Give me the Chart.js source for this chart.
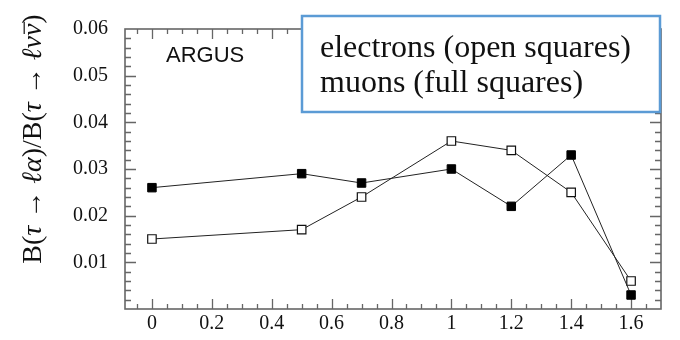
<!DOCTYPE html>
<html>
<head>
<meta charset="utf-8">
<title>ARGUS tau branching ratio</title>
<script src="https://cdn.jsdelivr.net/npm/chart.js@4.4.1/dist/chart.umd.min.js"></script>
<style>
  html, body { margin: 0; padding: 0; background: #fff; }
  #wrap { width: 680px; height: 340px; }
</style>
</head>
<body>
<div id="wrap"><canvas id="c" width="680" height="340"></canvas></div>
<script>
// Measured points (x position and branching ratio for each lepton type)
const xValues   = [0, 0.5, 0.7, 1.0, 1.2, 1.4, 1.6];
const electrons = [0.015, 0.017, 0.024, 0.036, 0.034, 0.025, 0.006];
const muons     = [0.026, 0.029, 0.027, 0.030, 0.022, 0.033, 0.003];

// Labelled axis ticks
const xTickValues = [0, 0.2, 0.4, 0.6, 0.8, 1, 1.2, 1.4, 1.6];
const yTickValues = [0.01, 0.02, 0.03, 0.04, 0.05, 0.06];

// Axis ranges
const xRange = [-0.09, 1.7];
const yRange = [0, 0.06];

const legendLines = ['electrons (open squares)', 'muons (full squares)'];
const experiment = 'ARGUS';

const SERIF = '"Liberation Serif", "DejaVu Serif", "Times New Roman", serif';
const SANS = '"Liberation Sans", Arial, Helvetica, sans-serif';
const FRAME = '#666';

// Frame with inward major/minor tick marks on all four sides
const framePlugin = {
  id: 'frame',
  beforeDatasetsDraw(chart) {
    const { ctx, chartArea: a, scales } = chart;
    const xs = scales.x, ys = scales.y;
    ctx.save();
    ctx.strokeStyle = FRAME;
    ctx.lineWidth = 1.6;
    ctx.strokeRect(a.left, a.top, a.right - a.left, a.bottom - a.top);
    ctx.lineWidth = 1.3;
    ctx.beginPath();
    // x ticks: minor every 0.05, major every 0.2
    for (let k = -1; k <= 33; k++) {
      const v = k * 0.05;
      if (v < xRange[0] || v > xRange[1]) continue;
      const major = k % 4 === 0;
      const len = major ? 10 : 5;
      const px = Math.round(xs.getPixelForValue(v)) + 0.5;
      ctx.moveTo(px, a.bottom); ctx.lineTo(px, a.bottom - len);
      ctx.moveTo(px, a.top); ctx.lineTo(px, a.top + len);
    }
    // y ticks: minor every 0.002, major every 0.01
    for (let k = 1; k < 30; k++) {
      const v = k * 0.002;
      const major = k % 5 === 0;
      const len = major ? 11 : 6;
      const py = Math.round(ys.getPixelForValue(v)) + 0.5;
      ctx.moveTo(a.left, py); ctx.lineTo(a.left + len, py);
      ctx.moveTo(a.right, py); ctx.lineTo(a.right - len, py);
    }
    ctx.stroke();
    ctx.restore();
  },
  afterDraw(chart) {
    const { ctx } = chart;
    ctx.save();

    // Experiment name
    ctx.fillStyle = '#111';
    ctx.font = '22px ' + SANS;
    ctx.textBaseline = 'alphabetic';
    ctx.textAlign = 'left';
    ctx.fillText(experiment, 166, 62);

    // Legend box
    ctx.fillStyle = '#fff';
    ctx.fillRect(302, 16, 358, 96);
    ctx.strokeStyle = '#5B9BD5';
    ctx.lineWidth = 2.5;
    ctx.strokeRect(302, 16, 358, 96);
    ctx.fillStyle = '#111';
    ctx.font = '32px ' + SERIF;
    ctx.fillText(legendLines[0], 320, 57);
    ctx.fillText(legendLines[1], 320, 92);

    // Rotated y-axis title: B(τ → ℓα)/B(τ → ℓνν̄)
    const size = 28;
    const up = size + 'px ' + SERIF;
    const it = 'italic ' + size + 'px ' + SERIF;
    const parts = [
      ['B(', up], ['τ', it], [' → ', up], ['ℓα', it], [')/B(', up],
      ['τ', it], [' → ', up], ['ℓν', it], ['ν', it, true], [')', up]
    ];
    let total = 0;
    for (const p of parts) { ctx.font = p[1]; total += ctx.measureText(p[0]).width; }
    ctx.translate(41, 139);
    ctx.rotate(-Math.PI / 2);
    let x = -total / 2;
    ctx.fillStyle = '#111';
    ctx.strokeStyle = '#111';
    for (const p of parts) {
      ctx.font = p[1];
      const w = ctx.measureText(p[0]).width;
      ctx.fillText(p[0], x, 0);
      if (p[2]) {
        ctx.lineWidth = 1.2;
        ctx.beginPath();
        ctx.moveTo(x + 2, -size * 0.6);
        ctx.lineTo(x + w + 2, -size * 0.6);
        ctx.stroke();
      }
      x += w;
    }
    ctx.restore();
  }
};

const toPoints = (ys) => xValues.map((x, i) => ({ x: x, y: ys[i] }));

new Chart(document.getElementById('c'), {
  type: 'line',
  data: {
    datasets: [
      {
        label: 'muons',
        data: toPoints(muons),
        borderColor: '#222',
        borderWidth: 1,
        tension: 0,
        pointStyle: 'rect',
        pointRadius: 6,
        pointBackgroundColor: '#000',
        pointBorderColor: '#000',
        pointBorderWidth: 1
      },
      {
        label: 'electrons',
        data: toPoints(electrons),
        borderColor: '#222',
        borderWidth: 1,
        tension: 0,
        pointStyle: 'rect',
        pointRadius: 6,
        pointBackgroundColor: '#fff',
        pointBorderColor: '#111',
        pointBorderWidth: 1.2
      }
    ]
  },
  options: {
    responsive: false,
    animation: false,
    devicePixelRatio: 1,
    layout: { padding: { left: 0, top: 14, right: 19, bottom: 0 } },
    plugins: { legend: { display: false }, tooltip: { enabled: false } },
    scales: {
      x: {
        type: 'linear',
        min: xRange[0],
        max: xRange[1],
        grid: { display: false, drawTicks: false },
        border: { display: false },
        afterBuildTicks: (s) => { s.ticks = xTickValues.map(v => ({ value: v })); },
        afterFit: (s) => { s.height = 31; },
        ticks: {
          padding: 3,
          color: '#111',
          maxRotation: 0,
          autoSkip: false,
          font: { family: SERIF, size: 20 },
          callback: (v) => String(v)
        }
      },
      y: {
        type: 'linear',
        min: yRange[0],
        max: yRange[1],
        grid: { display: false, drawTicks: false },
        border: { display: false },
        afterBuildTicks: (s) => { s.ticks = yTickValues.map(v => ({ value: v })); },
        afterFit: (s) => { s.width = 125; },
        ticks: {
          padding: 17,
          color: '#111',
          autoSkip: false,
          font: { family: SERIF, size: 20 },
          callback: (v) => v.toFixed(2)
        }
      }
    }
  },
  plugins: [framePlugin]
});
</script>
</body>
</html>
